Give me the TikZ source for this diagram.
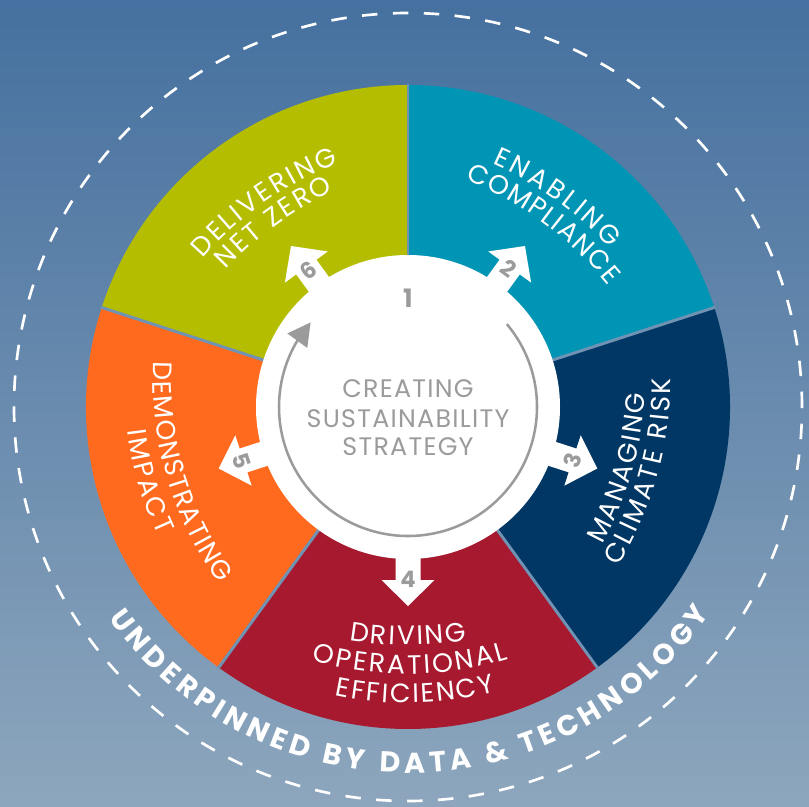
\documentclass[tikz,border=0pt]{standalone}
\usepackage{fontspec}
\newfontfamily\pop{Poppins}
\newfontfamily\popc[LetterSpace=5]{Poppins}
\usetikzlibrary{decorations.text,arrows.meta,bending}
\definecolor{bgtop}{HTML}{45709F}
\definecolor{bgbot}{HTML}{8DA6BD}
\definecolor{cOlive}{HTML}{B5BD00}
\definecolor{cTeal}{HTML}{0095B5}
\definecolor{cNavy}{HTML}{003764}
\definecolor{cRed}{HTML}{A6192E}
\definecolor{cOrange}{HTML}{FF6A1E}
\definecolor{cSep}{HTML}{7092B3}
\definecolor{cGrey}{HTML}{9B9B9B}
\newcommand{\labfont}{\pop\fontsize{20}{20}\selectfont\color{white}}
\def\txtR{350}
\newcommand{\seglabel}[5]{%
  \pgfmathsetmacro\al{#3/(2*\txtR)*57.29578}%
  \pgfmathsetmacro\sa{#1-(#4)*\al}%
  \pgfmathsetmacro\ea{#1+(#4)*\al}%
  \pgfmathsetmacro\off{#2-\txtR}%
  \path[shift={(#1:\off)}, decorate, decoration={text along path, text={|\labfont|#5}, text align=fit to path}]
    (\sa:\txtR) arc[start angle=\sa, end angle=\ea, radius=\txtR];
}
\tikzset{
  sepline/.style={cSep, line width=2.2pt},
  blockarrow/.style={fill=white},
  numlab/.style={cGrey, font=\pop\bfseries\fontsize{17}{17}\selectfont, inner sep=0pt},
  centerlab/.style={cGrey, font=\popc\fontsize{19}{21}\selectfont, inner sep=0pt, anchor=base},
}
\begin{document}
\begin{tikzpicture}[x=0.75pt,y=0.75pt]
\useasboundingbox (-408,-399) rectangle (401,407);
\shade[top color=bgtop,bottom color=bgbot] (-408,-399) rectangle (401,407);
\coordinate (C) at (0,0);
% dashed outer ring
\draw[white, line width=2pt, dash pattern=on 11.6pt off 11.6pt] (C) circle[radius=394];
% sectors
\fill[cTeal]   (C) -- (18:322)   arc[start angle=18,   end angle=90,  radius=322] -- cycle;
\fill[cOlive]  (C) -- (90:322)   arc[start angle=90,   end angle=162, radius=322] -- cycle;
\fill[cOrange] (C) -- (162:322)  arc[start angle=162,  end angle=234, radius=322] -- cycle;
\fill[cRed]    (C) -- (-126:322) arc[start angle=-126, end angle=-54, radius=322] -- cycle;
\fill[cNavy]   (C) -- (-54:322)  arc[start angle=-54,  end angle=18,  radius=322] -- cycle;
\foreach \a in {90,18,-54,-126,162} \draw[sepline] (C) -- (\a:323);
% white hub
\fill[white] (C) circle[radius=152];
\foreach \a in {54,-18,-90,198,126}
  \fill[blockarrow, rotate=\a] (140,-12.5) -- (173,-12.5) -- (173,-26.5) -- (199,0) -- (173,26.5) -- (173,12.5) -- (140,12.5) -- cycle;
% grey cycle arrow
\draw[cGrey, line width=1.9pt, -{Triangle[length=17pt,width=18pt]}] (40:129) arc[start angle=40, end angle=-221, radius=129];
% numbers
\node[numlab, font=\pop\bfseries\fontsize{19}{19}\selectfont] (n1) at (0,109) {1};
\node[numlab, rotate=-36] (n2) at (54:171) {2};
\node[numlab, rotate=72]  (n3) at (-18:173) {3};
\node[numlab]             (n4) at (-90:172) {4};
\node[numlab, rotate=-72] (n5) at (198:175) {5};
\node[numlab, rotate=36]  (n6) at (126:169) {6};
% centre text
\node[centerlab] (t1) at (0,9) {CREATING};
\node[centerlab] (t2) at (0,-20) {SUSTAINABILITY};
\node[centerlab] (t3) at (0,-48) {STRATEGY};
% segment labels
\seglabel{125}{249.5}{168}{-1}{DELIVERING}
\seglabel{126}{224.5}{134}{-1}{NET ZERO}
\seglabel{54.5}{254.5}{146}{-1}{ENABLING}
\seglabel{53.5}{228.5}{180}{-1}{COMPLIANCE}
\seglabel{-16}{233.5}{158}{1}{MANAGING}
\seglabel{-15.5}{259}{198}{1}{CLIMATE RISK}
\seglabel{-90}{238}{118}{1}{DRIVING}
\seglabel{-89.5}{267}{200}{1}{OPERATIONAL}
\seglabel{-88.6}{296}{162}{1}{EFFICIENCY}
\seglabel{196.5}{251}{236}{1}{DEMONSTRATING}
\seglabel{196}{280}{110}{1}{IMPACT}
% outer caption
\path[decorate, decoration={text along path, text={|\pop\bfseries\fontsize{21.5}{21.5}\selectfont\color{white}|UNDERPINNED BY DATA {\&} TECHNOLOGY}, text align=fit to path}]
  (-144.8:366) arc[start angle=-144.8, end angle=-34.4, radius=366];
\end{tikzpicture}
\end{document}
